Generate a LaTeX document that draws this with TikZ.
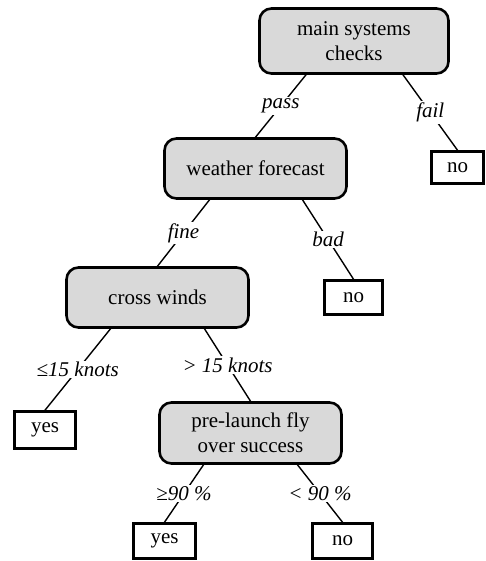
\documentclass[tikz,border=0pt]{standalone}
\usepackage{fontspec}
\setmainfont{Liberation Serif}
\begin{document}
\begin{tikzpicture}[x=1pt,y=-1pt,
  decision/.style={draw, line width=2.6pt, rounded corners=12pt, fill=gray!30, align=center, inner sep=0pt, font=\fontsize{21}{25}\selectfont},
  leaf/.style={draw, line width=2.6pt, fill=white, inner sep=0pt, font=\fontsize{21}{25}\selectfont},
  lbl/.style={fill=white, inner sep=1.5pt, font=\fontsize{21}{25}\selectfont\itshape},
  conn/.style={line width=1.4pt}]
\useasboundingbox (0,0) rectangle (486,561);
\node[decision, minimum width=189pt, minimum height=65pt] (main) at (354,41) {main systems\\checks};
\node[decision, minimum width=182pt, minimum height=60pt] (wf) at (255.5,168.5) {weather forecast};
\node[leaf, minimum width=52pt, minimum height=32pt] (no1) at (457.5,167.5) {no};
\node[decision, minimum width=182pt, minimum height=60pt] (cw) at (157.5,297.5) {cross winds};
\node[leaf, minimum width=58pt, minimum height=34pt] (no2) at (353.5,297.5) {no};
\node[leaf, minimum width=61pt, minimum height=37pt] (yes1) at (45,430) {yes};
\node[decision, minimum width=182pt, minimum height=61pt] (pl) at (250.5,433) {pre-launch fly\\over success};
\node[leaf, minimum width=62pt, minimum height=35pt] (yes2) at (164.5,541) {yes};
\node[leaf, minimum width=60pt, minimum height=35pt] (no3) at (342.5,541) {no};
\draw[conn] ([xshift=-48pt]main.south) -- node[lbl] {pass} (wf.north);
\draw[conn] ([xshift=49pt]main.south) -- node[lbl] {fail} (no1.north);
\draw[conn] ([xshift=-46pt]wf.south) -- node[lbl] {fine} (cw.north);
\draw[conn] ([xshift=47pt]wf.south) -- node[lbl] {bad} (no2.north);
\draw[conn] ([xshift=-47pt]cw.south) -- node[lbl] {≤15 knots} (yes1.north);
\draw[conn] ([xshift=47pt]cw.south) -- node[lbl] {> 15 knots} (pl.north);
\draw[conn] ([xshift=-47pt]pl.south) -- node[lbl] {≥90 \%} (yes2.north);
\draw[conn] ([xshift=47pt]pl.south) -- node[lbl] {< 90 \%} (no3.north);
\end{tikzpicture}
\end{document}
